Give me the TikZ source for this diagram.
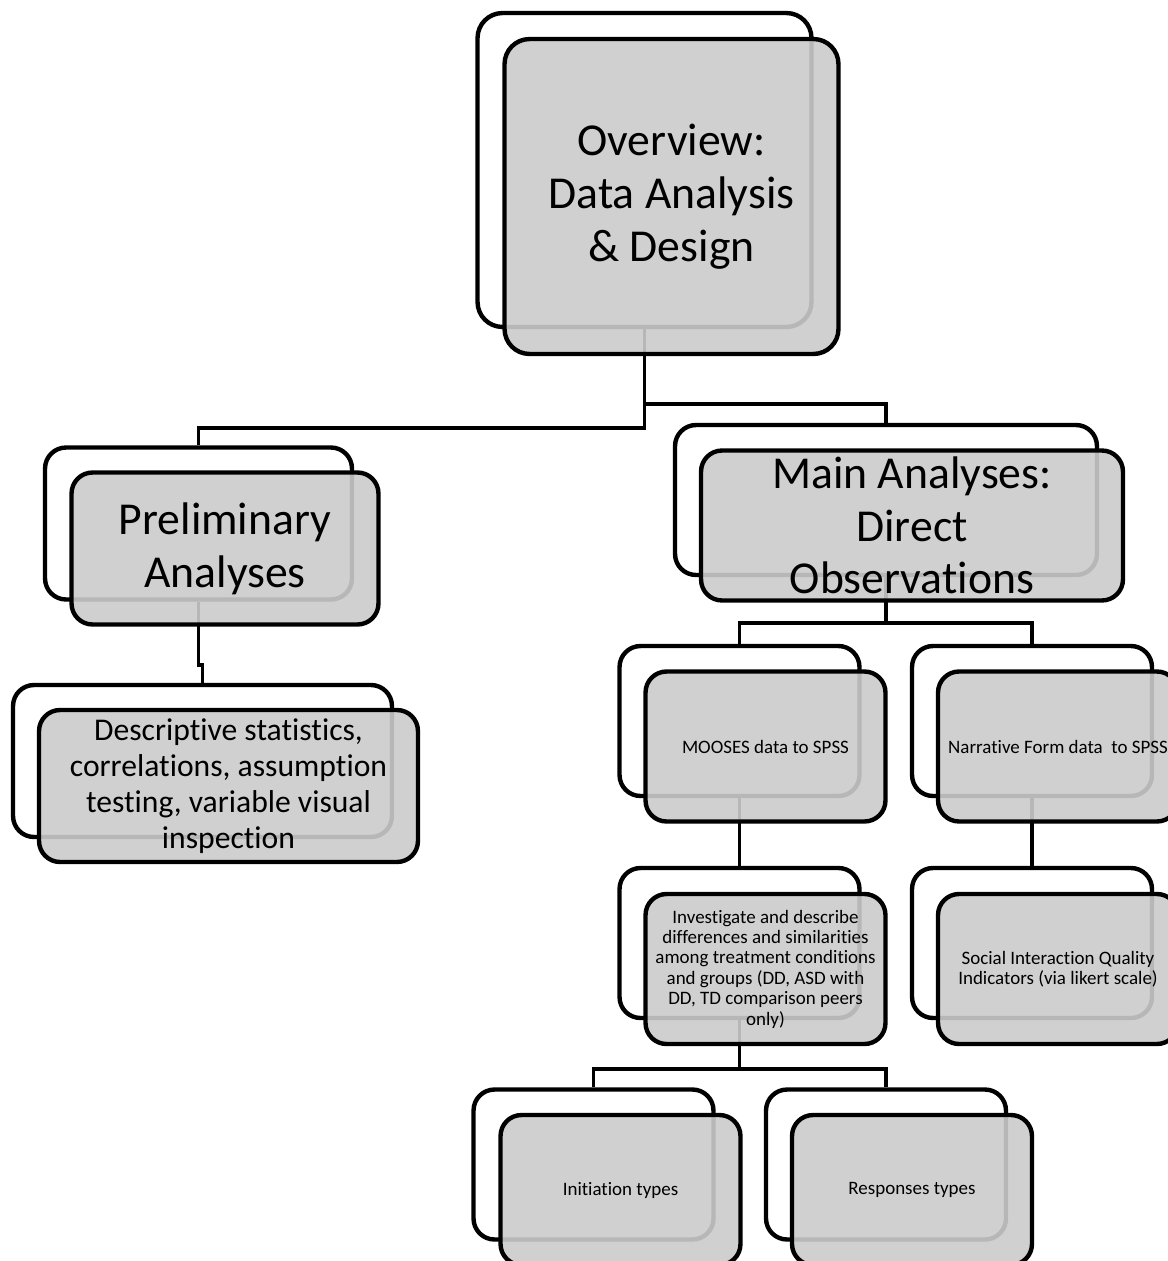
\documentclass[tikz,border=0pt]{standalone}
\usepackage{fontspec}
\setmainfont{Carlito}[Ligatures=NoCommon]
\definecolor{boxgray}{RGB}{203,203,203}

\begin{document}
\begin{tikzpicture}[x=0.02cm,y=-0.02cm,
   back/.style={draw,line width=2.5pt,rounded corners=0.42cm,fill=white,
                inner sep=0pt,minimum width=4.8cm,minimum height=3cm},
   front/.style={back,fill=boxgray,fill opacity=0.9},
   link/.style={line width=2.2pt},
   bigtxt/.style={align=center,inner sep=0pt,font=\fontsize{26}{30}\selectfont},
   midtxt/.style={align=center,inner sep=0pt,font=\fontsize{18}{20.6}\selectfont},
   smalltxt/.style={align=center,inner sep=0pt,font=\fontsize{10.8}{11.6}\selectfont}]
 %  \draw[gray] (0,0) rectangle (1168,1261);
   \useasboundingbox (0,0) rectangle (1168,1261);
   % back boxes
   \node[back,minimum width=6.68cm,minimum height=6.28cm,rounded corners=0.5cm] (ovB) at ( 644.5, 170.0) {};
   \node[back,minimum width=6.14cm,minimum height=3.04cm] (prB) at ( 198.5, 523.5) {};
   \node[back,minimum width=7.58cm,minimum height=3.04cm] (deB) at ( 202.5, 761.0) {};
   \node[back,minimum width=8.44cm] (maB) at ( 886.0, 500.0) {};
   \node[back] (moB) at ( 739.5, 721.0) {};
   \node[back] (naB) at (1032.0, 721.0) {};
   \node[back] (invB) at ( 739.5, 943.0) {};
   \node[back] (socB) at (1032.0, 943.0) {};
   \node[back] (iniB) at ( 593.5,1164.5) {};
   \node[back] (resB) at ( 886.0,1164.5) {};
   % connectors
   \draw[link] (ovB.south) -- ++(0,99) -| (prB.north);
   \draw[link] (ovB.south) -- ++(0,75) -| (maB.north);
   \draw[link] (prB.south) -- ++(0,63) -| (deB.north);
   \draw[link] (maB.south) -- ++(0,46) -| (moB.north);
   \draw[link] (maB.south) -- ++(0,46) -| (naB.north);
   \draw[link] (moB.south) -- (invB.north);
   \draw[link] (naB.south) -- (socB.north);
   \draw[link] (invB.south) -- ++(0,49) -| (iniB.north);
   \draw[link] (invB.south) -- ++(0,49) -| (resB.north);
   % front boxes
   \node[front,minimum width=6.68cm,minimum height=6.3cm,rounded corners=0.5cm] (ov) at ( 671.5, 196.5) {};
   \node[front,minimum width=6.14cm,minimum height=3.04cm] (pr) at ( 225.0, 548.5) {};
   \node[front,minimum width=7.58cm,minimum height=3.04cm] (de) at ( 228.5, 786.0) {};
   \node[front,minimum width=8.44cm] (ma) at ( 912.0, 525.5) {};
   \node[front] (mo) at ( 765.5, 746.5) {};
   \node[front] (na) at (1058.0, 746.5) {};
   \node[front] (inv) at ( 765.5, 969.0) {};
   \node[front] (soc) at (1058.0, 969.0) {};
   \node[front] (ini) at ( 620.5,1190.0) {};
   \node[front] (res) at ( 912.0,1190.0) {};
   % labels
   \node[bigtxt] (ovT) at (ov) {Overview:\\Data Analysis\\\& Design};
   \node[bigtxt] (prT) at (pr) {Preliminary\\Analyses};
   \node[midtxt] (deT) at (de) {Descriptive statistics,\\correlations, assumption\\testing, variable visual\\inspection};
   \node[bigtxt] (maT) at (ma) {Main Analyses:\\Direct\\Observations};
   \node[smalltxt] (moT) at (mo) {MOOSES data to SPSS};
   \node[smalltxt] (naT) at (na) {Narrative Form data~ to SPSS};
   \node[smalltxt] (invT) at (inv) {Investigate and describe\\differences and similarities\\among treatment conditions\\and groups (DD, ASD with\\DD, TD comparison peers\\only)};
   \node[smalltxt] (socT) at (soc) {Social Interaction Quality\\Indicators (via likert scale)};
   \node[smalltxt] (iniT) at (ini) {Initiation types};
   \node[smalltxt] (resT) at (res) {Responses types};
\end{tikzpicture}
\end{document}
